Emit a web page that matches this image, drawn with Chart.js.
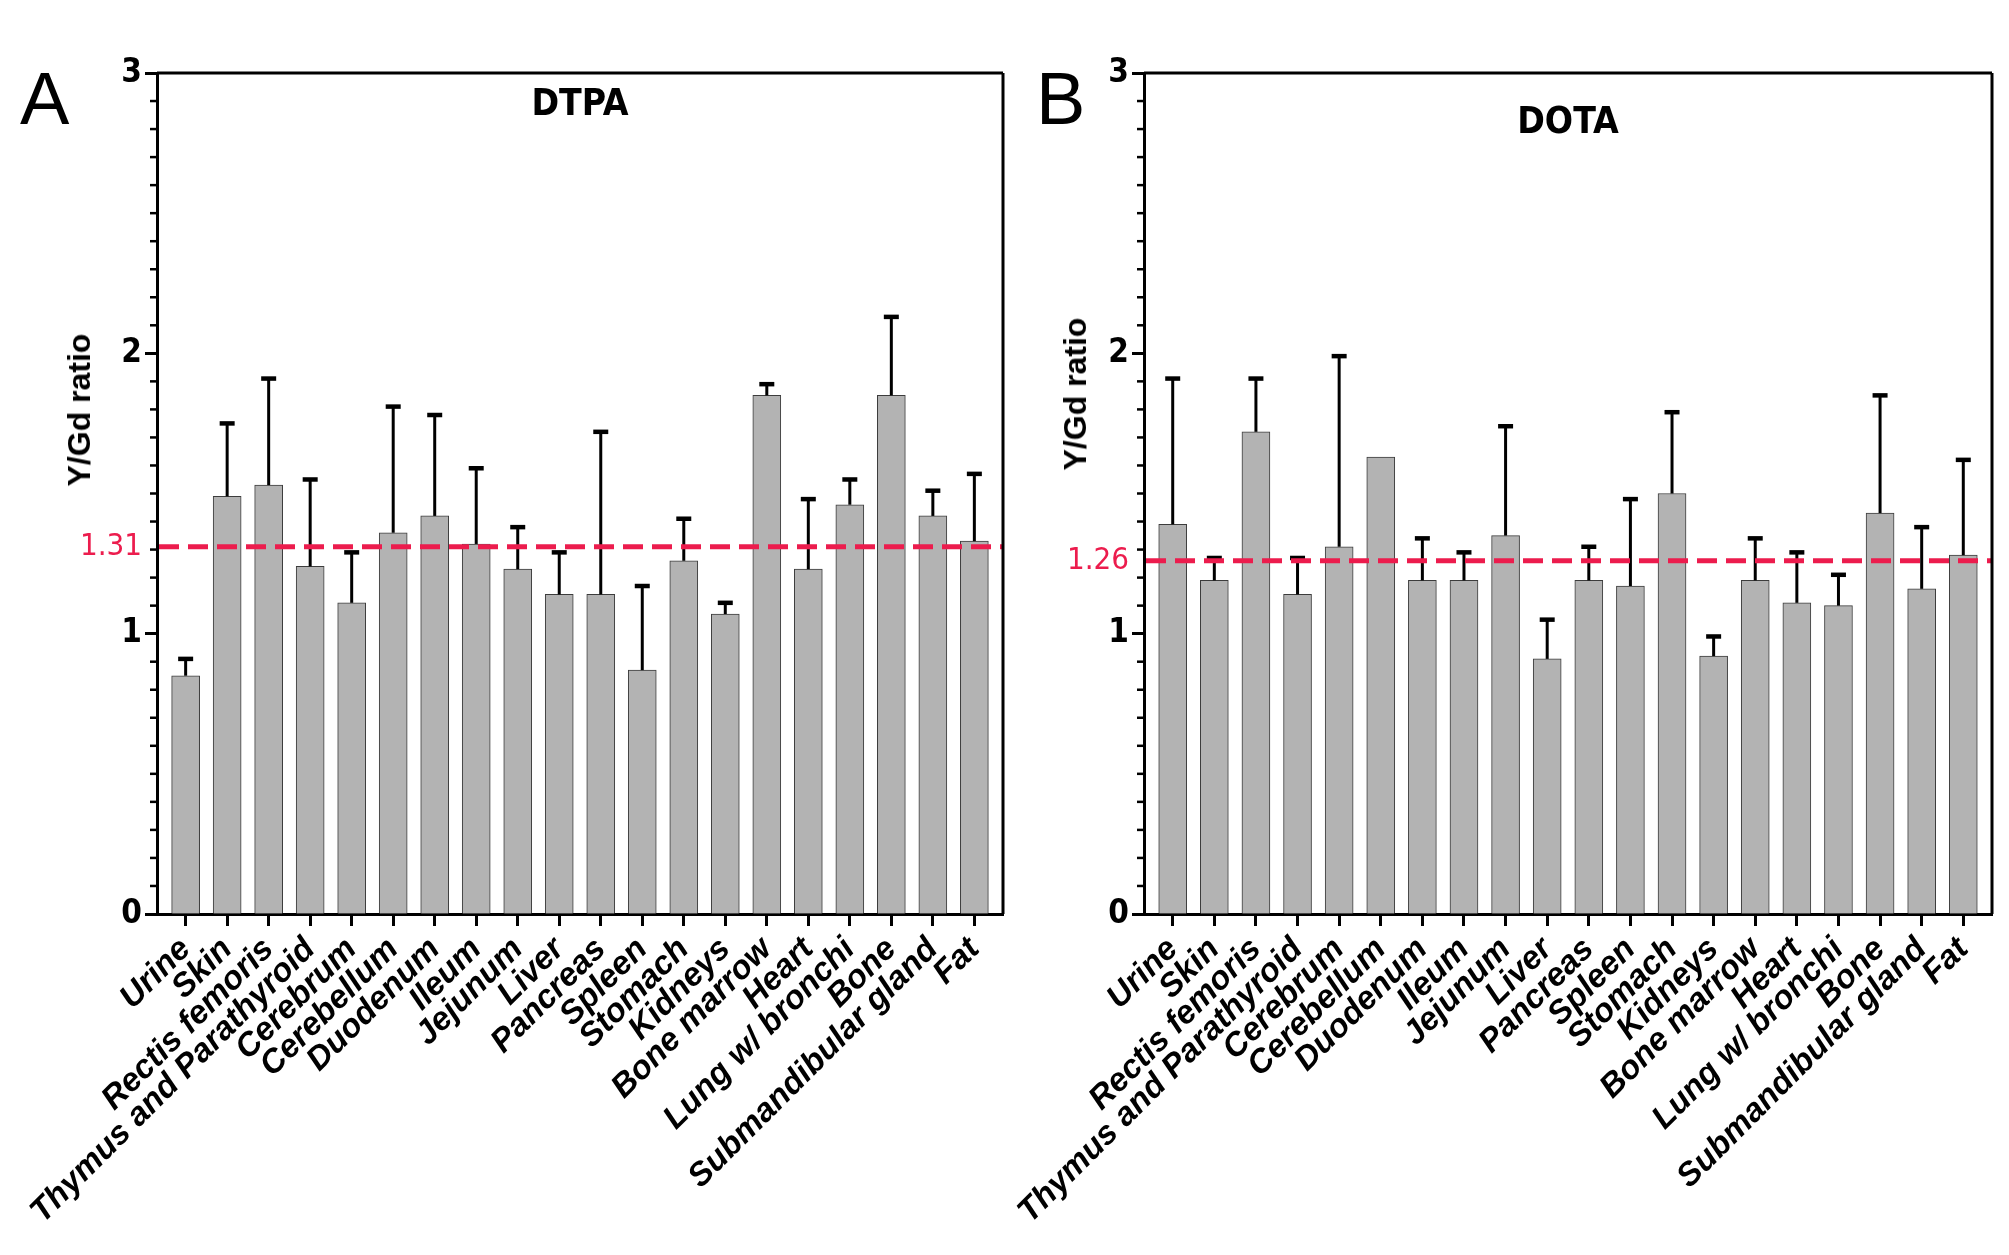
<!DOCTYPE html>
<html>
<head>
<meta charset="utf-8">
<script src="https://cdn.jsdelivr.net/npm/chart.js@4.4.1/dist/chart.umd.min.js"></script>
<style>
  body { margin: 0; background: #fff; width: 2009px; height: 1255px; position: relative; overflow: hidden;
         font-family: 'Liberation Sans', Arial, sans-serif; }
  .panel { position: absolute; top: 0; height: 1255px; }
  .letter { position: absolute; font-size: 74px; line-height: 1; color: #000; }
  .ptitle { position: absolute; font-family: 'Liberation Sans Narrow', 'DejaVu Sans Condensed', sans-serif;
            font-weight: bold; font-size: 37px; line-height: 1; text-align: center; }
  .ytitle { position: absolute; font-weight: bold; font-size: 32px; line-height: 1; white-space: nowrap;
            transform: translate(-50%, -50%) rotate(-90deg); }
</style>
</head>
<body>
<div class="panel" style="left:0; width:1010px;"><canvas id="chartA"></canvas></div>
<div class="panel" style="left:987px; width:1015px;"><canvas id="chartB"></canvas></div>

<div class="letter" style="left:20px; top:62px;">A</div>
<div class="letter" style="left:1036px; top:62px;">B</div>
<div class="ptitle" style="left:157px; width:846px; top:84px;">DTPA</div>
<div class="ptitle" style="left:1144px; width:848px; top:102px;">DOTA</div>
<div class="ytitle" style="left:79px; top:410px;">Y/Gd ratio</div>
<div class="ytitle" style="left:1075px; top:394px;">Y/Gd ratio</div>

<script>
const organs = ['Urine', 'Skin', 'Rectis femoris', 'Thymus and Parathyroid', 'Cerebrum', 'Cerebellum',
    'Duodenum', 'Ileum', 'Jejunum', 'Liver', 'Pancreas', 'Spleen', 'Stomach', 'Kidneys', 'Bone marrow',
    'Heart', 'Lung w/ bronchi', 'Bone', 'Submandibular gland', 'Fat'];

// DTPA panel: bar heights and top of the error bar
const dtpaMean  = [0.85, 1.49, 1.53, 1.24, 1.11, 1.36, 1.42, 1.32, 1.23, 1.14, 1.14, 0.87, 1.26, 1.07, 1.85, 1.23, 1.46, 1.85, 1.42, 1.33];
const dtpaUpper = [0.91, 1.75, 1.91, 1.55, 1.29, 1.81, 1.78, 1.59, 1.38, 1.29, 1.72, 1.17, 1.41, 1.11, 1.89, 1.48, 1.55, 2.13, 1.51, 1.57];

// DOTA panel
const dotaMean  = [1.39, 1.19, 1.72, 1.14, 1.31, 1.63, 1.19, 1.19, 1.35, 0.91, 1.19, 1.17, 1.50, 0.92, 1.19, 1.11, 1.10, 1.43, 1.16, 1.28];
const dotaUpper = [1.91, 1.27, 1.91, 1.27, 1.99, null, 1.34, 1.29, 1.74, 1.05, 1.31, 1.48, 1.79, 0.99, 1.34, 1.29, 1.21, 1.85, 1.38, 1.62];

const dtpaRef = 1.31;
const dotaRef = 1.26;
const yTicks = [0, 1, 2, 3];

const red = '#ec1c4d';
const narrow = "'Liberation Sans Narrow', 'DejaVu Sans Condensed', sans-serif";

function line(ctx, x1, y1, x2, y2) {
    ctx.beginPath();
    ctx.moveTo(x1, y1);
    ctx.lineTo(x2, y2);
    ctx.stroke();
}

// error bars, dashed mean line, frame and minor ticks
const decor = {
    id: 'decor',
    afterDatasetsDraw(chart, args, opts) {
        const { ctx, chartArea: a, scales: { x, y } } = chart;
        ctx.save();
        ctx.strokeStyle = '#000';
        opts.upper.forEach((u, i) => {
            if (u == null) return;
            const px = x.getPixelForValue(i);
            const top = y.getPixelForValue(u);
            const base = y.getPixelForValue(opts.mean[i]);
            ctx.lineWidth = 3;
            line(ctx, px, base, px, top);
            ctx.lineWidth = 4.5;
            line(ctx, px - 7.5, top, px + 7.5, top);
        });
        const yr = y.getPixelForValue(opts.ref);
        ctx.strokeStyle = red;
        ctx.lineWidth = 5;
        ctx.setLineDash([20, 9]);
        line(ctx, a.left + 2, yr, a.right, yr);
        ctx.restore();
    },
    afterDraw(chart) {
        const { ctx, chartArea: a, scales: { y } } = chart;
        ctx.save();
        ctx.strokeStyle = '#000';
        ctx.lineWidth = 3;
        line(ctx, a.left, a.top, a.right, a.top);
        line(ctx, a.right, a.top, a.right, a.bottom);
        ctx.lineWidth = 2.5;
        for (let k = 1; k < 30; k++) {
            if (k % 10 === 0) continue;
            const yy = y.getPixelForValue(k / 10);
            line(ctx, a.left - 7, yy, a.left, yy);
        }
        ctx.restore();
    }
};

function makeChart(id, mean, upper, ref, rightPad) {
    const isRef = c => !!(c && c.tick && c.tick.value === ref);
    return new Chart(document.getElementById(id), {
        type: 'bar',
        data: {
            datasets: [{
                data: mean.map((v, i) => ({ x: i, y: v })),
                backgroundColor: '#b3b3b3',
                borderColor: '#3c3c3c',
                borderWidth: 1,
                barThickness: 28
            }]
        },
        options: {
            responsive: true,
            maintainAspectRatio: false,
            animation: false,
            layout: { padding: { top: 73, right: rightPad, left: 0, bottom: 0 } },
            plugins: {
                legend: { display: false },
                tooltip: { enabled: false },
                decor: { mean: mean, upper: upper, ref: ref }
            },
            scales: {
                x: {
                    type: 'linear',
                    min: -0.69,
                    max: 19.69,
                    offset: false,
                    afterBuildTicks: s => { s.ticks = organs.map((o, i) => ({ value: i })); },
                    afterFit: s => { s.height = 341; },
                    grid: { drawOnChartArea: false, offset: false, tickLength: 12, tickWidth: 3, tickColor: '#000' },
                    border: { color: '#000', width: 3 },
                    ticks: {
                        autoSkip: false,
                        minRotation: 45,
                        maxRotation: 45,
                        color: '#000',
                        padding: 4,
                        font: { family: "'Liberation Sans', Arial, sans-serif", size: 33, weight: 'bold', style: 'italic' },
                        callback: v => organs[v]
                    }
                },
                y: {
                    min: 0,
                    max: 3,
                    afterBuildTicks: s => { s.ticks = yTicks.concat([ref]).map(v => ({ value: v })); },
                    afterFit: s => { s.width = 157; },
                    grid: {
                        drawOnChartArea: false, tickLength: 12, tickWidth: 3,
                        tickColor: c => isRef(c) ? 'rgba(0,0,0,0)' : '#000'
                    },
                    border: { color: '#000', width: 3 },
                    ticks: {
                        padding: 3,
                        color: c => isRef(c) ? red : '#000',
                        font: c => isRef(c)
                            ? { family: narrow, size: 31, weight: 'normal' }
                            : { family: narrow, size: 33, weight: 'bold' },
                        callback: v => v === ref ? ref.toFixed(2) : String(v)
                    }
                }
            }
        },
        plugins: [decor]
    });
}

makeChart('chartA', dtpaMean, dtpaUpper, dtpaRef, 7);
makeChart('chartB', dotaMean, dotaUpper, dotaRef, 10);
</script>
</body>
</html>
